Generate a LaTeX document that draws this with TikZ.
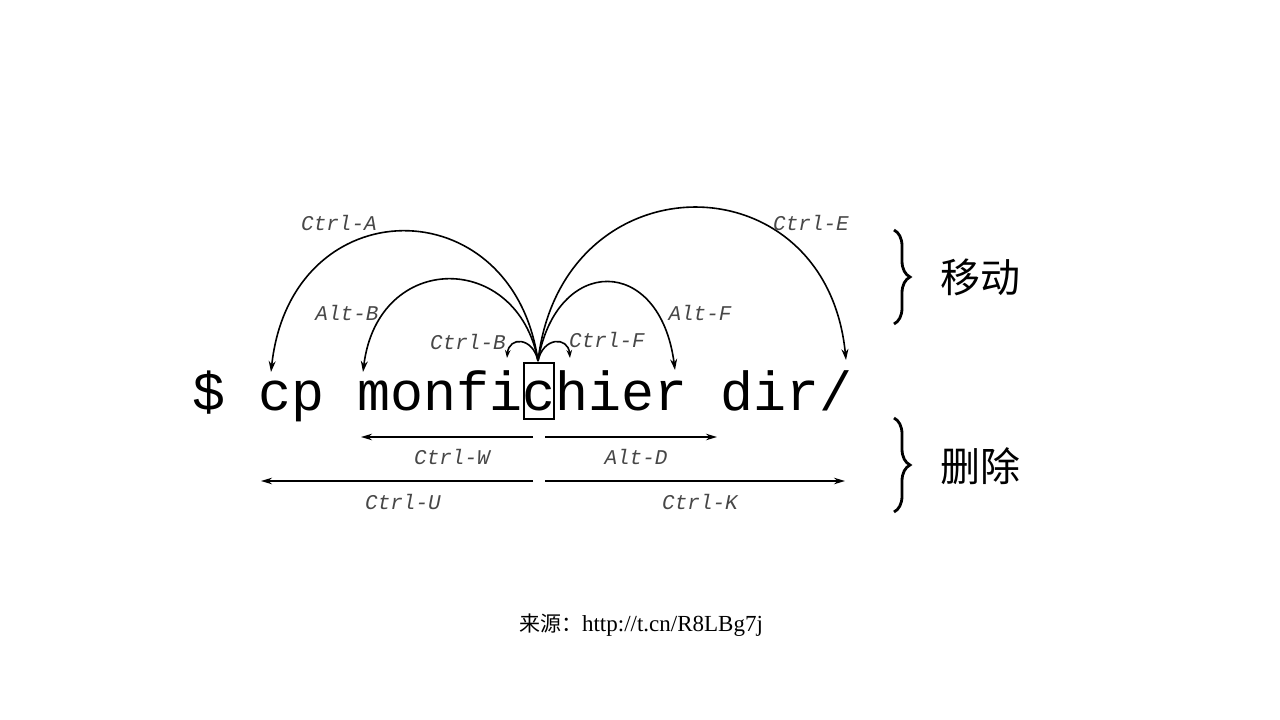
\documentclass[tikz,border=0pt]{standalone}
\usepackage{fontspec}
\setmainfont{Liberation Serif}
\newfontfamily\monof{Liberation Mono}
\newfontfamily\cjkf{Noto Sans CJK SC}
\usetikzlibrary{arrows.meta,decorations.pathreplacing}
\tikzset{
  mono/.style={font=\monof\fontsize{55}{60}\selectfont, inner sep=0pt, text=black},
  lbl/.style={font=\monof\itshape\fontsize{21}{24}\selectfont, text=black!72, inner sep=0pt},
  arr/.style={line width=1.6pt, -{Stealth[length=11pt,width=7pt]}},
  sarr/.style={line width=1.6pt, -{Stealth[length=8pt,width=5.5pt]}},
  harr/.style={line width=1.5pt, -{Stealth[length=11pt,width=6.5pt]}},
  bracestyle/.style={decorate, decoration={brace, amplitude=16pt}, line width=2.8pt},
  cjklbl/.style={font=\cjkf\fontsize{40}{44}\selectfont, inner sep=0pt},
}
\begin{document}
\begin{tikzpicture}[x=1pt,y=-1pt]
\useasboundingbox[fill=white] (0,0) rectangle (1280,720);

% command line
\node[mono, anchor=base] (c) at (539,410) {c};
\node[mono, anchor=base east] (pre) at (c.base west) {\$ cp monfi};
\node[mono, anchor=base west] (post) at (c.base east) {hier dir/};
\node[draw, line width=1.4pt, minimum width=30pt, minimum height=56pt, inner sep=0pt] (cbox) at (539,391) {};

% movement targets
\coordinate (ctop) at (538,361);
\coordinate (tA) at (271,372);
\coordinate (tAB) at (363,372);
\coordinate (tCB) at (507,358);
\coordinate (tCF) at (570,358);
\coordinate (tAF) at (675,370);
\coordinate (tE) at (846,360);

\draw[arr] (ctop) .. controls +(-25,-175) and +(20,-185) .. (tA);
\draw[arr] (ctop) .. controls +(-20,-110) and +(15,-122) .. (tAB);
\draw[sarr] (ctop) .. controls +(-5,-24) and +(2,-22) .. (tCB);
\draw[sarr] (ctop) .. controls +(5,-24) and +(-2,-22) .. (tCF);
\draw[arr] (ctop) .. controls +(18,-106) and +(-15,-116) .. (tAF);
\draw[arr] (ctop) .. controls +(24,-204) and +(-20,-203) .. (tE);

\node[lbl] (lA) at (339,223) {Ctrl-A};
\node[lbl] (lE) at (811,223) {Ctrl-E};
\node[lbl] (lAB) at (347,313) {Alt-B};
\node[lbl] (lAF) at (700,313) {Alt-F};
\node[lbl] (lCB) at (468,342) {Ctrl-B};
\node[lbl] (lCF) at (607,340) {Ctrl-F};

% deletion
\coordinate (wS) at (533,437);
\coordinate (wE) at (361,437);
\coordinate (dS) at (545,437);
\coordinate (dE) at (717,437);
\coordinate (uS) at (533,481);
\coordinate (uE) at (261,481);
\coordinate (kS) at (545,481);
\coordinate (kE) at (845,481);
\draw[harr] (wS) -- (wE);
\draw[harr] (dS) -- (dE);
\draw[harr] (uS) -- (uE);
\draw[harr] (kS) -- (kE);
\node[lbl] (lW) at (452,457) {Ctrl-W};
\node[lbl] (lD) at (636,457) {Alt-D};
\node[lbl] (lU) at (403,502) {Ctrl-U};
\node[lbl] (lK) at (700,502) {Ctrl-K};

% braces
\coordinate (b1t) at (894,230);
\coordinate (b1b) at (894,324);
\coordinate (b2t) at (894,418);
\coordinate (b2b) at (894,512);
\draw[bracestyle] (b1t) -- (b1b);
\draw[bracestyle] (b2t) -- (b2b);
\node[cjklbl] (mv) at (980,277) {移动};
\node[cjklbl] (del) at (980,466) {删除};

% source
\node[font=\fontsize{23}{26}\selectfont, inner sep=0pt] (src) at (641,625) {{\cjkf\fontsize{21}{26}\selectfont 来源：}http://t.cn/R8LBg7j};
\end{tikzpicture}
\end{document}
